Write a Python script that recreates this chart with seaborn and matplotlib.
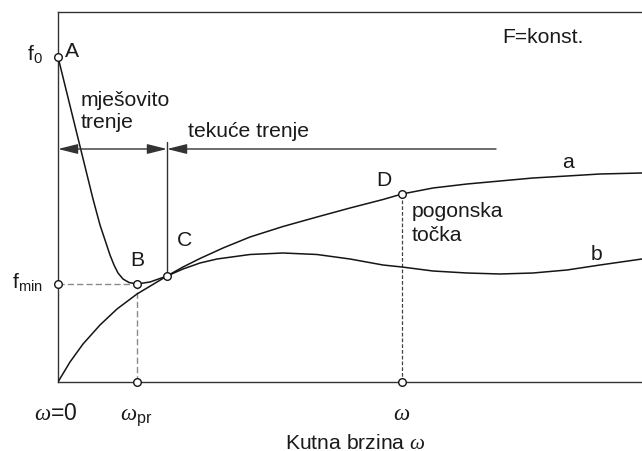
import pandas as pd
import seaborn as sns
import matplotlib.pyplot as plt

# Stribeckova krivulja - trenje u ovisnosti o kutnoj brzini
sns.set_theme(style="white")
plt.rcParams['font.family'] = ['Liberation Sans', 'DejaVu Sans']
plt.rcParams['mathtext.fontset'] = 'custom'
plt.rcParams['mathtext.rm'] = 'Liberation Sans'
plt.rcParams['mathtext.it'] = 'Liberation Serif:italic'

# krivulja a (tekuće trenje, raste)
omega_a = [0, 12, 25, 42, 59, 79, 109, 125, 142, 165, 192, 225, 259,
           292, 325, 344, 375, 409, 442, 475, 509, 542, 584]
f_a = [0, 20, 38, 57, 73, 88, 106, 115, 123.5, 134, 145, 155.5, 165,
       174, 182.5, 188, 194, 198, 201, 204, 206, 208, 209]

# krivulja b
omega_b = [109, 125, 142, 159, 192, 225, 259, 292, 325, 344, 375, 409,
           442, 475, 509, 542, 584]
f_b = [106, 113, 119, 123, 127.5, 129, 127.5, 123, 117, 115, 111, 109,
       108, 109, 112, 117, 123]

# mješovito trenje A -> B -> C
omega_m = [0, 35, 42, 48, 52, 56, 60, 65, 71, 79, 92, 109]
f_m = [325, 183, 157, 139, 127, 117, 109, 103, 99.5, 98, 100, 106]

# karakteristične točke
tocke = ["A", "B", "C", "D"]
tocke_omega = [0, 79, 109, 344]
tocke_f = [325, 98, 106, 188]
granica_tekuceg = 438
visina_strelica = 233
vrh_okomice = 240

fig = plt.figure(figsize=(6.42, 4.52), dpi=100)
ax = fig.add_axes([58 / 642, 69 / 452, 584 / 642, 370 / 452])

crta = "#151515"
for x, y in [(omega_a, f_a), (omega_b, f_b), (omega_m, f_m)]:
    sns.lineplot(x=x, y=y, ax=ax, color=crta, lw=1.1, sort=False,
                 estimator=None, zorder=3)

A, B, C, D = zip(tocke_omega, tocke_f)

# isprekidane pomoćne linije
ax.plot([0, B[0]], [B[1], B[1]], color="#8a8a8a", lw=1.0, dashes=(4.5, 2.2))
ax.plot([B[0], B[0]], [0, B[1]], color="#8a8a8a", lw=1.0, dashes=(4.5, 2.2))
ax.plot([D[0], D[0]], [0, D[1]], color="#444444", lw=0.9, dashes=(3, 1.6))

# granica mješovitog i tekućeg trenja
ax.plot([C[0], C[0]], [C[1], vrh_okomice], color="#333333", lw=1.0)
ax.annotate("", xy=(0, visina_strelica), xytext=(C[0], visina_strelica),
            arrowprops=dict(arrowstyle="<|-|>,head_length=1.2,head_width=0.3",
                            mutation_scale=10, color="#333333", lw=1.0,
                            shrinkA=0, shrinkB=0))
ax.annotate("", xy=(C[0], visina_strelica),
            xytext=(granica_tekuceg, visina_strelica),
            arrowprops=dict(arrowstyle="-|>,head_length=1.2,head_width=0.3",
                            mutation_scale=10, color="#333333", lw=1.0,
                            shrinkA=0, shrinkB=0))

# kružići
krug_x = list(tocke_omega) + [0, B[0], D[0]]
krug_y = list(tocke_f) + [B[1], 0, 0]
ax.scatter(krug_x, krug_y, s=30, facecolor="white", edgecolor=crta,
           linewidth=1.0, zorder=5, clip_on=False)

ax.set_xlim(0, 584)
ax.set_ylim(0, 370)
ax.set_xticks([])
ax.set_yticks([])
ax.spines["right"].set_visible(False)
for s in ["left", "bottom", "top"]:
    ax.spines[s].set_color("#333333")
    ax.spines[s].set_linewidth(1.0)

fs = 15.2
tc = "#1a1a1a"
ax.text(444, 340, "F=konst.", fontsize=fs, color=tc)
ax.text(-15, 329, r"$\mathrm{f}_0$", fontsize=fs, color=tc, ha="right", va="center")
ax.text(-15, 101, r"$\mathrm{f}_{\mathrm{min}}$", fontsize=fs, color=tc,
        ha="right", va="center")
ax.text(7, 326, "A", fontsize=fs, color=tc)
ax.text(79, 122, "B", fontsize=fs, color=tc, ha="center", va="center")
ax.text(126, 142, "C", fontsize=fs, color=tc, ha="center", va="center")
ax.text(326, 202, "D", fontsize=fs, color=tc, ha="center", va="center")
ax.text(510, 221, "a", fontsize=fs, color=tc, ha="center", va="center")
ax.text(539, 129, "b", fontsize=fs, color=tc, ha="center", va="center")
ax.text(23, 277, "mješovito", fontsize=fs, color=tc)
ax.text(23, 255, "trenje", fontsize=fs, color=tc)
ax.text(130, 246, "tekuće trenje", fontsize=fs, color=tc)
ax.text(354, 166, "pogonska", fontsize=fs, color=tc)
ax.text(354, 142, "točka", fontsize=fs, color=tc)

fw = 16.5
ax.text(-2, -37, r"$\omega$=0", fontsize=fw, color=tc, ha="center")
ax.text(78, -37, r"$\omega_{\mathrm{pr}}$", fontsize=fw, color=tc, ha="center")
ax.text(344, -37, r"$\omega$", fontsize=fw, color=tc, ha="center")
ax.text(297, -66, r"Kutna brzina $\omega$", fontsize=fs, color=tc, ha="center")

fig.savefig("out.png", dpi=100)
